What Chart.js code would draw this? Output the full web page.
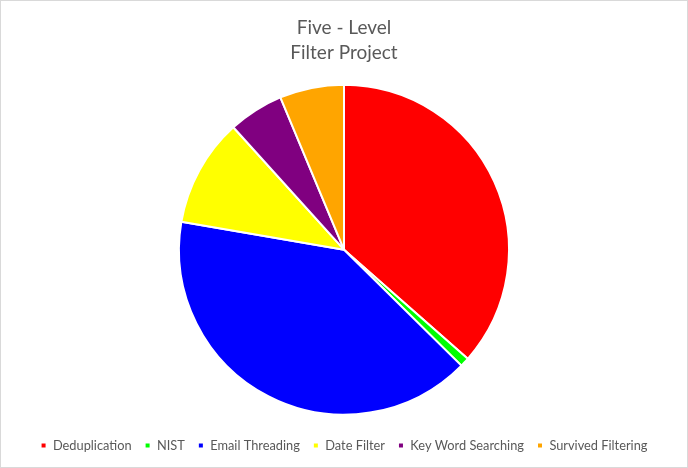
<!DOCTYPE html>
<html>
<head>
<meta charset="utf-8">
<script src="https://cdn.jsdelivr.net/npm/chart.js@4"></script>
<style>
  html, body { margin: 0; padding: 0; background: #fff; }
  #wrap { width: 686px; height: 466px; border: 1px solid #d9d9d9; position: relative; }
</style>
</head>
<body>
<div id="wrap"><canvas id="pie"></canvas></div>
<script>
// ── data ──────────────────────────────────
const labels = ['Deduplication', 'NIST', 'Email Threading', 'Date Filter', 'Key Word Searching', 'Survived Filtering'];
const values = [36.5, 0.9, 40.3, 10.6, 5.4, 6.3];
const colors = ['#ff0000', '#00ff00', '#0000ff', '#ffff00', '#800080', '#ffa500'];
const titleLines = ['Five - Level', 'Filter Project'];

const FONT = "Lato, 'Open Sans', sans-serif";

new Chart(document.getElementById('pie'), {
  type: 'pie',
  data: {
    labels,
    datasets: [{
      data: values,
      backgroundColor: colors,
      borderColor: '#ffffff',
      borderWidth: 2,
      radius: 165,
    }],
  },
  options: {
    responsive: true,
    maintainAspectRatio: false,
    animation: false,
    layout: { padding: { top: 0, bottom: 5 } },
    plugins: {
      title: {
        display: true,
        text: titleLines,
        color: '#595959',
        font: { family: FONT, size: 19, weight: 'normal', lineHeight: 1.32 },
        padding: { top: 14, bottom: 8 },
      },
      legend: {
        position: 'bottom',
        labels: {
          color: '#595959',
          font: { family: FONT, size: 12.8 },
          usePointStyle: true,
          pointStyle: 'rect',
          boxWidth: 6,
          boxHeight: 6,
          padding: 13,
        },
      },
      tooltip: { enabled: false },
    },
  },
});
</script>
</body>
</html>
